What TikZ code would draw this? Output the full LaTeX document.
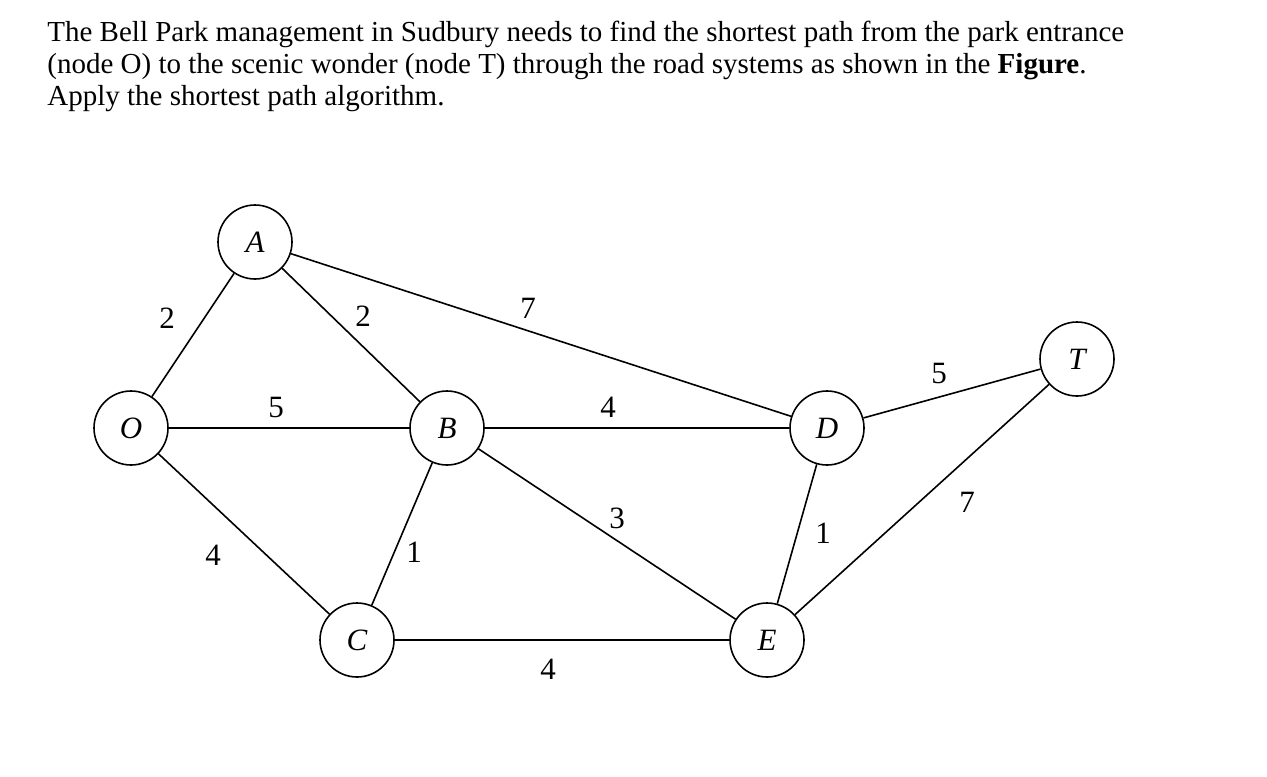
\documentclass[tikz,border=0pt]{standalone}
\usepackage{fontspec}
\setmainfont{Liberation Serif}
\usepackage{tikz}
\usetikzlibrary{positioning}
\tikzset{
    place/.style={
        circle,
        draw,
        line width=0.8pt,
        minimum size=37pt,
        inner sep=0pt,
        font=\fontsize{15.5}{16}\selectfont\itshape
    },
    wt/.style={font=\fontsize{15.5}{16}\selectfont, inner sep=1pt},
    road/.style={line width=0.8pt}
}
\begin{document}
\begin{tikzpicture}[x=0.5pt, y=-0.5pt]
\useasboundingbox (0,0) rectangle (1267,776);
% question text
\node[anchor=north west, align=left, inner sep=0pt,
      font=\fontsize{14.5}{16}\selectfont] (task) at (47,21)
{The Bell Park management in Sudbury needs to find the shortest path from the park entrance\\
(node O) to the scenic wonder (node T) through the road systems as shown in the \textbf{Figure}.\\
Apply the shortest path algorithm.};

% places
\node[place] (o) at (131,428) {O};
\node[place] (a) at (255,242) {A};
\node[place] (b) at (447,428) {B};
\node[place] (c) at (357,640) {C};
\node[place] (d) at (827,428) {D};
\node[place] (e) at (767,640) {E};
\node[place] (t) at (1077,359) {T};

% roads
\draw[road] (o) -- (a);
\draw[road] (o) -- (b);
\draw[road] (o) -- (c);
\draw[road] (a) -- (b);
\draw[road] (a) -- (d);
\draw[road] (b) -- (c);
\draw[road] (b) -- (d);
\draw[road] (b) -- (e);
\draw[road] (c) -- (e);
\draw[road] (d) -- (e);
\draw[road] (d) -- (t);
\draw[road] (e) -- (t);

% distances
\node[wt] (oa) at (167,318) {2};
\node[wt] (ab) at (363,316) {2};
\node[wt] (ob) at (276,407) {5};
\node[wt] (ad) at (528,308) {7};
\node[wt] (bd) at (608,407) {4};
\node[wt] (oc) at (213,555) {4};
\node[wt] (bc) at (414,552) {1};
\node[wt] (be) at (617,518) {3};
\node[wt] (ce) at (548,669) {4};
\node[wt] (de) at (823,533) {1};
\node[wt] (dt) at (939,373) {5};
\node[wt] (et) at (967,502) {7};
\end{tikzpicture}
\end{document}
